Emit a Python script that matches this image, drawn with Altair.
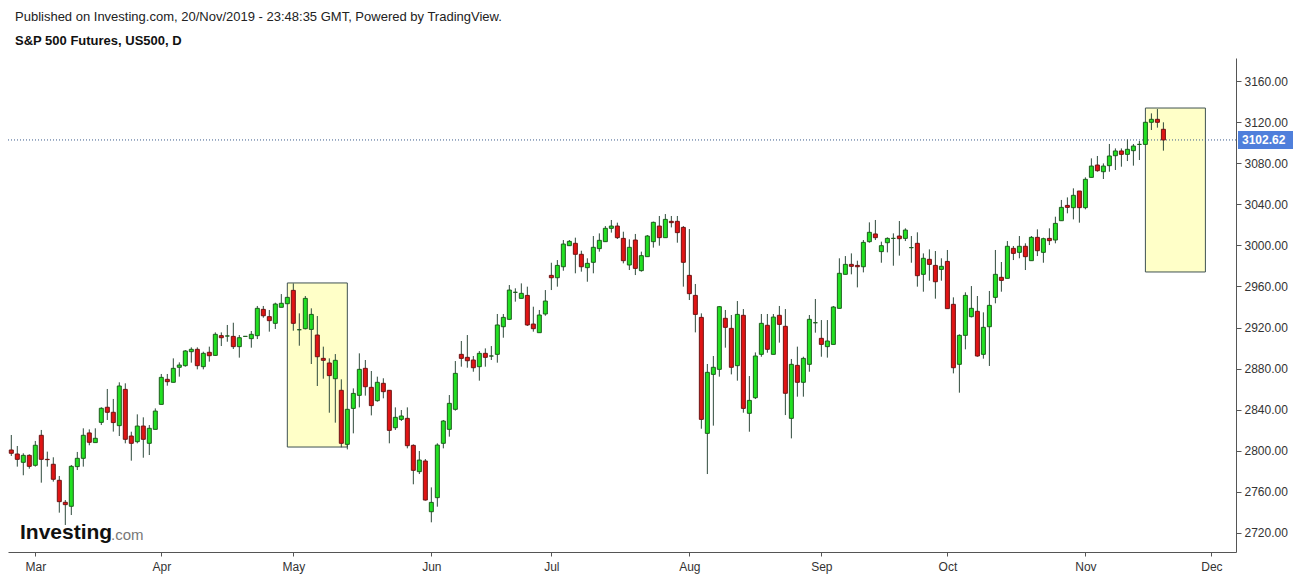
import altair as alt
import pandas as pd

# ---- OHLC values (bar index order) ----
opens = [2800.8,2796.9,2788.8,2795.6,2785.9,2815.1,2791.7,2786.9,2771.3,2749.9,
 2746.0,2784.6,2792.7,2817.4,2808.0,2827.7,2842.4,2837.5,2824.5,2859.8,
 2814.4,2808.9,2824.1,2807.3,2820.9,2845.2,2869.6,2866.7,2881.3,2882.9,
 2896.5,2898.8,2881.9,2895.9,2892.9,2912.1,2911.8,2911.4,2901.4,2911.4,
 2909.2,2912.1,2937.7,2930.6,2924.1,2939.7,2943.2,2956.2,2917.9,2918.9,
 2918.2,2912.7,2890.0,2885.5,2870.2,2858.9,2806.3,2841.3,2854.0,2880.3,
 2861.8,2848.8,2865.7,2858.9,2822.5,2830.6,2831.6,2805.3,2779.7,2790.1,
 2740.7,2754.4,2807.3,2820.9,2840.4,2893.9,2891.0,2888.4,2881.9,2894.9,
 2892.3,2893.9,2920.8,2928.0,2954.3,2948.4,2951.3,2923.4,2915.0,2933.2,
 2970.8,2968.5,2979.2,2999.7,3002.0,2991.3,2978.3,2983.5,2996.8,3003.6,
 3016.6,3018.8,3006.8,2980.9,3005.2,2975.4,2989.0,3003.6,3018.8,3007.5,
 3023.4,3023.4,3017.5,2970.8,2951.3,2929.9,2817.0,2874.4,2879.3,2929.0,
 2919.2,2882.9,2931.9,2836.5,2851.7,2893.9,2922.2,2893.9,2931.9,2921.2,
 2831.6,2883.2,2866.7,2884.2,2924.7,2909.5,2901.4,2903.6,2938.7,2971.8,
 2981.5,2980.5,2979.2,3003.6,3011.1,2993.9,3002.6,3006.8,3009.1,3006.8,
 2997.8,3002.0,2971.8,2986.4,2980.5,2976.6,2984.4,2942.6,2884.2,2912.4,
 2930.6,2935.8,2893.9,2920.8,2949.4,2968.9,2967.9,2997.1,2993.2,2999.1,
 2985.1,3007.8,2993.2,3006.8,3005.2,3024.0,3038.9,3036.7,3052.9,3036.7,
 3066.2,3078.2,3071.7,3077.6,3087.3,3091.9,3088.6,3092.2,3098.3,3098.3,
 3119.8,3122.7,3113.0]
highs = [2815.4,2804.7,2797.6,2796.6,2809.6,2820.3,2799.2,2793.7,2775.5,2752.1,
 2786.2,2798.9,2821.9,2820.9,2821.9,2842.4,2860.2,2850.5,2866.7,2865.7,
 2818.6,2835.5,2832.6,2825.1,2841.3,2874.8,2874.8,2890.0,2886.1,2898.1,
 2900.7,2900.7,2896.5,2901.4,2915.3,2915.3,2922.5,2924.7,2912.7,2911.4,
 2916.6,2941.0,2941.0,2937.1,2944.2,2952.6,2949.4,2963.0,2933.8,2950.7,
 2938.7,2931.2,2901.4,2890.0,2894.2,2869.6,2840.4,2860.8,2894.9,2888.4,
 2877.7,2872.2,2870.6,2859.2,2842.3,2839.7,2842.3,2806.3,2799.8,2792.0,
 2764.4,2807.3,2830.0,2854.3,2887.4,2906.9,2912.7,2892.3,2897.1,2899.7,
 2902.0,2933.2,2933.2,2961.4,2958.2,2963.0,2959.8,2940.3,2937.1,2956.5,
 2983.1,2985.7,3005.2,3005.2,3007.5,2994.8,2987.4,3009.1,3011.7,3018.8,
 3024.7,3022.1,3013.3,3005.9,3011.1,2993.9,3010.1,3023.1,3028.6,3030.5,
 3028.6,3028.6,3018.8,3015.9,2962.4,2933.8,2884.5,2892.3,2941.0,2937.1,
 2932.2,2945.8,2938.0,2872.8,2895.8,2933.2,2933.2,2933.2,2941.0,2938.0,
 2889.4,2901.4,2891.6,2932.2,2947.8,2927.3,2927.3,2941.0,2987.4,2989.6,
 2992.2,2985.1,3005.2,3022.4,3024.7,3003.6,3007.8,3011.7,3023.7,3016.6,
 3009.1,3012.7,2992.2,2996.1,2994.5,2987.4,2995.5,2949.4,2913.4,2954.3,
 2960.4,2950.7,2934.8,2955.6,2995.5,2983.8,3004.2,2999.4,3009.1,3002.0,
 3009.1,3015.6,3007.5,3016.6,3027.9,3044.2,3046.7,3055.5,3052.9,3066.2,
 3084.7,3087.0,3079.8,3098.7,3094.4,3094.4,3103.2,3098.7,3101.6,3120.4,
 3128.5,3132.7,3119.8]
lows = [2795.0,2784.6,2776.2,2782.6,2784.6,2769.0,2784.6,2770.0,2739.8,2727.8,
 2737.5,2781.3,2784.6,2805.4,2808.0,2825.1,2830.0,2818.7,2814.4,2807.3,
 2790.4,2807.3,2793.3,2795.9,2820.9,2845.2,2863.4,2866.7,2872.2,2881.9,
 2885.8,2879.3,2879.3,2886.8,2892.3,2902.0,2906.2,2899.1,2890.7,2911.4,
 2900.4,2908.8,2929.6,2916.0,2918.6,2939.7,2943.2,2916.9,2902.3,2918.2,
 2884.5,2863.1,2870.2,2837.1,2827.4,2803.4,2801.4,2817.0,2842.3,2853.7,
 2834.5,2847.8,2851.1,2807.3,2820.3,2829.0,2802.4,2767.4,2777.4,2751.5,
 2730.4,2745.6,2802.4,2813.8,2839.1,2881.9,2880.9,2877.0,2868.3,2881.9,
 2888.4,2885.8,2910.1,2927.3,2945.2,2948.4,2921.5,2916.0,2915.0,2931.5,
 2956.5,2959.8,2975.3,2999.4,2972.8,2974.4,2964.6,2972.8,2993.9,3003.6,
 3012.4,3006.2,2982.5,2976.0,2971.1,2974.4,2989.0,2997.8,2999.7,3007.5,
 3017.5,3002.6,2959.8,2946.8,2915.3,2821.5,2777.4,2824.5,2872.2,2900.4,
 2874.4,2868.3,2837.1,2818.6,2850.4,2891.6,2895.5,2893.9,2905.3,2834.8,
 2812.1,2852.7,2852.7,2877.0,2915.0,2891.6,2890.7,2903.6,2938.7,2971.8,
 2971.8,2959.1,2973.7,3002.6,3005.2,2983.1,2993.2,2980.2,2990.0,3004.2,
 2983.1,2959.8,2954.9,2965.6,2948.1,2965.6,2938.4,2875.4,2856.6,2898.8,
 2929.9,2891.6,2889.7,2882.6,2943.6,2954.9,2967.9,2985.7,2987.4,2976.0,
 2985.1,2989.6,2983.1,3000.3,3002.0,3024.0,3031.2,3025.3,3022.1,3035.1,
 3066.2,3071.7,3064.6,3071.7,3073.4,3076.6,3082.1,3077.6,3083.1,3098.3,
 3112.3,3114.6,3092.2]
closes = [2797.6,2791.7,2795.6,2784.9,2805.4,2791.7,2791.4,2772.3,2750.5,2747.6,
 2784.9,2792.7,2815.1,2808.3,2812.2,2841.4,2837.5,2827.5,2863.1,2811.2,
 2807.3,2824.1,2811.2,2821.9,2838.7,2871.5,2867.3,2880.3,2883.5,2897.2,
 2898.8,2882.9,2894.9,2892.6,2913.4,2910.1,2911.8,2901.4,2910.1,2911.4,
 2913.4,2938.7,2931.5,2926.7,2942.9,2943.6,2949.4,2924.1,2917.9,2948.4,
 2932.8,2891.6,2888.1,2873.2,2888.1,2807.3,2840.4,2855.9,2879.3,2862.4,
 2844.0,2866.7,2857.6,2819.9,2832.6,2833.9,2805.0,2781.0,2791.0,2752.1,
 2749.8,2805.6,2829.0,2846.2,2875.4,2890.0,2887.7,2880.9,2894.9,2891.0,
 2892.3,2922.5,2929.9,2956.5,2954.3,2953.3,2922.5,2918.9,2932.2,2945.8,
 2968.5,2980.5,3001.3,3003.9,2991.3,2979.2,2982.5,2998.1,3004.9,3016.6,
 3018.8,3007.5,2985.1,2998.1,2977.6,2990.0,3009.1,3022.4,3007.5,3025.3,
 3022.1,3012.4,2983.5,2953.0,2932.8,2830.6,2876.4,2881.3,2940.3,2920.2,
 2881.3,2932.8,2841.3,2849.1,2892.3,2924.1,2898.8,2930.2,2923.1,2856.0,
 2884.2,2866.7,2890.0,2928.0,2924.7,2903.6,2906.9,2940.0,2972.8,2981.5,
 2979.6,2979.2,3002.9,3012.7,3007.5,2999.7,3006.8,3006.8,3006.5,3014.9,
 2997.8,2970.5,2987.4,2981.5,2964.6,2979.6,2938.4,2880.9,2912.4,2951.3,
 2938.7,2892.3,2920.2,2941.6,2971.8,2965.9,2999.1,2992.2,2999.1,2989.0,
 3007.8,2994.8,3006.5,3004.6,3021.4,3037.0,3037.0,3048.7,3036.7,3064.3,
 3077.2,3072.7,3077.2,3087.0,3091.9,3088.6,3093.5,3096.7,3098.3,3119.8,
 3122.7,3119.8,3102.62]

month_labels = ["Mar", "Apr", "May", "Jun", "Jul", "Aug", "Sep", "Oct", "Nov", "Dec"]
month_pos = [4, 25, 47, 70, 90, 113, 135, 156, 179, 200]
price_ticks = [2720, 2760, 2800, 2840, 2880, 2920, 2960, 3000, 3040, 3080, 3120, 3160]

# highlight boxes (bar index range, price range)
box_x0 = [46, 189]
box_x1 = [56, 199]
box_lo = [2803.7, 2974.1]
box_hi = [2963.4, 3133.7]

last_price = 3102.62

header1 = "Published on Investing.com, 20/Nov/2019 - 23:48:35 GMT, Powered by TradingView."
header2 = "S&P 500 Futures, US500, D"

FONT = "Liberation Sans"
GREEN, GREEN_EDGE = "#22e022", "#1d5e1d"
RED, RED_EDGE = "#e01414", "#6e1414"
WICK = "#2f4a3c"

df = pd.DataFrame({"i": list(range(len(opens))), "o": opens, "h": highs, "l": lows, "c": closes})
df["dir"] = ["up" if c >= o else "down" for o, c in zip(opens, closes)]

W, H = 1228, 494
xscale = alt.Scale(domain=[-0.55, 204.1], nice=False, zero=False, padding=0)
yscale = alt.Scale(domain=[2701.5, 3182.4], nice=False, zero=False, padding=0)

label_expr = "[" + ",".join("'%s'" % m for m in month_labels) + "][indexof([" + \
    ",".join(str(p) for p in month_pos) + "], datum.value)]"

xaxis = alt.Axis(values=month_pos, labelExpr=label_expr, grid=False, title=None,
                 domainColor="#555555", tickColor="#555555", tickSize=4,
                 labelColor="#333333", labelFontSize=12, labelFont=FONT, labelPadding=5)
yaxis = alt.Axis(orient="right", values=price_ticks, format=".2f", grid=False, title=None,
                 domainColor="#555555", tickColor="#555555", tickSize=5,
                 labelColor="#333333", labelFontSize=12, labelFont=FONT, labelPadding=3)

boxes_df = pd.DataFrame({"x0": box_x0, "x1": box_x1, "lo": box_lo, "hi": box_hi})
boxes = alt.Chart(boxes_df).mark_rect(fill="#ffffc8", stroke="#3f5252", strokeWidth=1).encode(
    x=alt.X("x0:Q", scale=xscale, axis=xaxis), x2="x1:Q",
    y=alt.Y("lo:Q", scale=yscale, axis=yaxis), y2="hi:Q")

wicks = alt.Chart(df).mark_rule(color=WICK, strokeWidth=1).encode(
    x=alt.X("i:Q", scale=xscale), y=alt.Y("l:Q", scale=yscale), y2="h:Q")

bodies = alt.Chart(df).mark_bar(size=4, strokeWidth=1).encode(
    x=alt.X("i:Q", scale=xscale), y=alt.Y("o:Q", scale=yscale), y2="c:Q",
    fill=alt.Fill("dir:N", scale=alt.Scale(domain=["up", "down"], range=[GREEN, RED]), legend=None),
    stroke=alt.Stroke("dir:N", scale=alt.Scale(domain=["up", "down"], range=[GREEN_EDGE, RED_EDGE]), legend=None))

last_df = pd.DataFrame({"p": [last_price], "lo": [last_price - 8.8], "hi": [last_price + 8.8],
                        "t": ["%.2f" % last_price]})
last_line = alt.Chart(last_df).mark_rule(color="#3b5b8c", strokeDash=[1, 2], strokeWidth=1).encode(
    y=alt.Y("p:Q", scale=yscale), x=alt.value(0), x2=alt.value(W))
last_box = alt.Chart(last_df).mark_rect(fill="#4f7fdb", clip=False).encode(
    y=alt.Y("lo:Q", scale=yscale), y2="hi:Q", x=alt.value(W + 2), x2=alt.value(W + 57))
last_text = alt.Chart(last_df).mark_text(color="white", fontSize=12, font=FONT, fontWeight="bold",
                                         align="left", baseline="middle", clip=False).encode(
    y=alt.Y("p:Q", scale=yscale), x=alt.value(W + 6), text="t:N")

one = pd.DataFrame({"a": [0]})
h1 = alt.Chart(one).mark_text(text=header1, font=FONT, fontSize=13, color="#222222",
                              align="left", baseline="middle").encode(x=alt.value(7), y=alt.value(-41))
h2 = alt.Chart(one).mark_text(text=header2, font=FONT, fontSize=13, fontWeight="bold", color="#111111",
                              align="left", baseline="middle").encode(x=alt.value(7), y=alt.value(-17))
logo1 = alt.Chart(one).mark_text(text="Investing", font=FONT, fontSize=21, fontWeight="bold",
                                 color="#111111", align="left", baseline="middle").encode(
    x=alt.value(12), y=alt.value(475))
logo2 = alt.Chart(one).mark_text(text=".com", font=FONT, fontSize=15, color="#777777",
                                 align="left", baseline="middle").encode(x=alt.value(103), y=alt.value(477))

chart = alt.layer(boxes, last_line, wicks, bodies, last_box, last_text, h1, h2, logo1, logo2).properties(
    width=W, height=H,
    autosize=alt.AutoSizeParams(type="none"),
    padding={"left": 8, "top": 58, "right": 63, "bottom": 28},
    background="white",
).configure_view(stroke=None)

chart.save("out.html", embed_options={"renderer": "svg", "actions": False})
